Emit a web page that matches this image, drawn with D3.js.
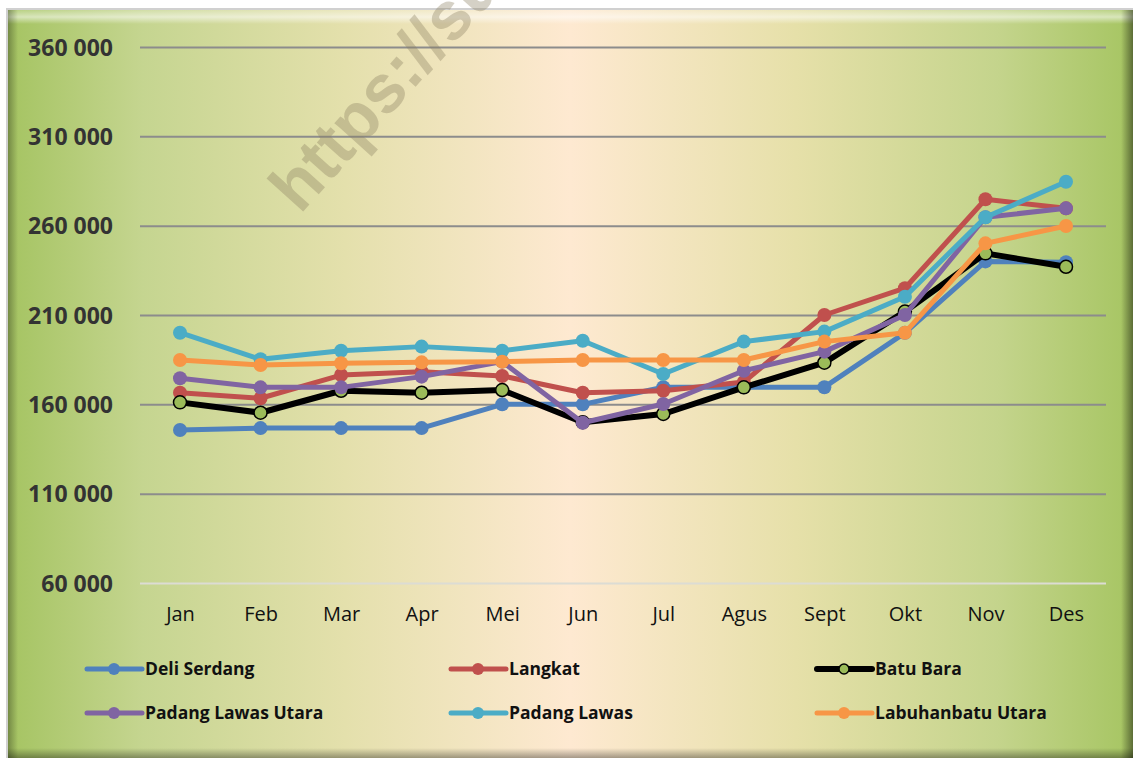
<!DOCTYPE html>
<html><head><meta charset="utf-8">
<script src="https://cdn.jsdelivr.net/npm/d3@7"></script>
<style>body{margin:0;background:#fff}svg{display:block}</style>
</head><body>
<svg id="c" width="1137" height="760"></svg>
<script>
const months = ["Jan","Feb","Mar","Apr","Mei","Jun","Jul","Agus","Sept","Okt","Nov","Des"];
const yTicks = [60000,110000,160000,210000,260000,310000,360000];
const seriesNames = ["Deli Serdang","Langkat","Batu Bara","Padang Lawas Utara","Padang Lawas","Labuhanbatu Utara"];
const deliSerdang = [145600,146700,146700,146700,160000,160000,169600,169600,169600,200000,240000,239500];
const langkat = [166500,163400,176400,178300,175900,166500,167600,172500,210000,225000,274800,269700];
const batuBara = [161100,155300,167600,166500,168000,150000,154600,169500,183300,211900,244500,237000];
const padangLawasUtara = [174600,169500,169500,175500,183900,149700,160200,178800,189500,210000,264700,269700];
const padangLawas = [200100,185200,190000,192300,190000,195600,177000,195100,200700,220200,264700,284600];
const labuhanbatuUtara = [184800,182000,183000,183500,183900,184800,184800,184800,195100,200100,250100,259800];
const seriesValues = [deliSerdang,langkat,batuBara,padangLawasUtara,padangLawas,labuhanbatuUtara];
const colors = ["#4f81bd","#c0504d","#000000","#8064a2","#4bacc6","#f79646"];
const markerFill = ["#4f81bd","#c0504d","#9bbb59","#8064a2","#4bacc6","#f79646"];

const FONT = "'Open Sans', 'Liberation Sans', sans-serif";
const svg = d3.select("#c");
const defs = svg.append("defs");
const g1 = defs.append("linearGradient").attr("id","bg").attr("x1","0").attr("x2","1").attr("y1","0").attr("y2","0");
[[0,"#a5c462"],[0.12,"#c5d590"],[0.3,"#e4e0ac"],[0.5,"#fee9d1"],[0.7,"#e6e0a9"],[0.88,"#c4d48c"],[1,"#a6c562"]]
  .forEach(([o,c])=>g1.append("stop").attr("offset",o).attr("stop-color",c));
const gt = defs.append("linearGradient").attr("id","topb").attr("x1","0").attr("x2","0").attr("y1","0").attr("y2","1");
gt.append("stop").attr("offset",0).attr("stop-color","#fff").attr("stop-opacity",0.2);
gt.append("stop").attr("offset",0.5).attr("stop-color","#fff").attr("stop-opacity",0.55);
gt.append("stop").attr("offset",1).attr("stop-color","#fff").attr("stop-opacity",0);
const gb = defs.append("linearGradient").attr("id","botb").attr("x1","0").attr("x2","0").attr("y1","0").attr("y2","1");
gb.append("stop").attr("offset",0).attr("stop-color","#000").attr("stop-opacity",0);
gb.append("stop").attr("offset",1).attr("stop-color","#000").attr("stop-opacity",0.35);
const gl = defs.append("linearGradient").attr("id","leftb").attr("x1","0").attr("x2","1").attr("y1","0").attr("y2","0");
gl.append("stop").attr("offset",0).attr("stop-color","#000").attr("stop-opacity",0.3);
gl.append("stop").attr("offset",1).attr("stop-color","#000").attr("stop-opacity",0);
const gr = defs.append("linearGradient").attr("id","rightb").attr("x1","0").attr("x2","1").attr("y1","0").attr("y2","0");
gr.append("stop").attr("offset",0).attr("stop-color","#000").attr("stop-opacity",0);
gr.append("stop").attr("offset",1).attr("stop-color","#000").attr("stop-opacity",0.45);

// frame
svg.append("rect").attr("x",6).attr("y",8).attr("width",1127).attr("height",750).attr("fill","#d0d0d0");
svg.append("rect").attr("x",8).attr("y",10).attr("width",1125).attr("height",748).attr("fill","url(#bg)");
svg.append("rect").attr("x",8).attr("y",10).attr("width",1125).attr("height",14).attr("fill","url(#topb)");
svg.append("rect").attr("x",8).attr("y",10).attr("width",10).attr("height",748).attr("fill","url(#leftb)");
svg.append("rect").attr("x",1121).attr("y",10).attr("width",12).attr("height",748).attr("fill","url(#rightb)");
svg.append("rect").attr("x",8).attr("y",748).attr("width",1125).attr("height",10).attr("fill","url(#botb)");

const x = d3.scalePoint().domain(months).range([180,1066]);
const y = d3.scaleLinear().domain([60000,360000]).range([583,47]);
const fmt = v => d3.format(",")(v).replace(/,/g," ");

// grid + y axis
const yAxis = d3.axisLeft(y).tickValues(yTicks).tickSize(-966).tickFormat(fmt).tickPadding(27);
const ga = svg.append("g").attr("transform","translate(140,0)").call(yAxis);
ga.select(".domain").remove();
ga.selectAll(".tick line").attr("stroke",d=>d===60000?"#dcdcd4":"#8c8c8c").attr("stroke-width",2);
ga.selectAll(".tick text").attr("font-family",FONT).attr("font-weight","bold")
  .attr("font-size",23).attr("fill","#333").attr("dy","0.35em");

const xAxis = d3.axisBottom(x).tickSize(0).tickPadding(0);
const gx = svg.append("g").attr("transform","translate(0,614)").call(xAxis);
gx.select(".domain").remove();
gx.selectAll(".tick text").attr("font-family",FONT).attr("font-size",20).attr("fill","#111").attr("dy","0.35em");

// watermark
svg.append("text").attr("transform","translate(300,215) rotate(-48)")
  .attr("font-family","'Liberation Sans', Arial, sans-serif").attr("font-weight","bold").attr("font-size",68)
  .attr("fill","#8a8060").attr("fill-opacity",0.36).text("https://su");

// series
const line = d3.line().x((d,i)=>x(months[i])).y(d=>y(d));
seriesValues.forEach((vals,s)=>{
  const g = svg.append("g");
  g.append("path").attr("d",line(vals)).attr("fill","none").attr("stroke",colors[s])
    .attr("stroke-width",s===2?6:5).attr("stroke-linejoin","round");
  g.selectAll("circle").data(vals).join("circle").attr("cx",(d,i)=>x(months[i])).attr("cy",d=>y(d))
    .attr("r",s===2?6.5:7).attr("fill",markerFill[s]).attr("stroke",s===2?"#000":"none").attr("stroke-width",1.5);
});

// legend
const legX = [87,451,817], legY = [669,713];
seriesNames.forEach((n,s)=>{
  const lx = legX[s%3], ly = legY[Math.floor(s/3)];
  const g = svg.append("g");
  g.append("line").attr("x1",lx).attr("x2",lx+55).attr("y1",ly).attr("y2",ly).attr("stroke",colors[s]).attr("stroke-width",s===2?6:5).attr("stroke-linecap","round");
  g.append("circle").attr("cx",lx+27).attr("cy",ly).attr("r",s===2?5:6).attr("fill",markerFill[s]).attr("stroke",s===2?"#000":"none").attr("stroke-width",1.5);
  g.append("text").attr("x",lx+58).attr("y",ly).attr("dy","0.35em").attr("font-family",FONT)
    .attr("font-weight","bold").attr("font-size",17.5).attr("fill","#111").text(n);
});
</script>
</body></html>
